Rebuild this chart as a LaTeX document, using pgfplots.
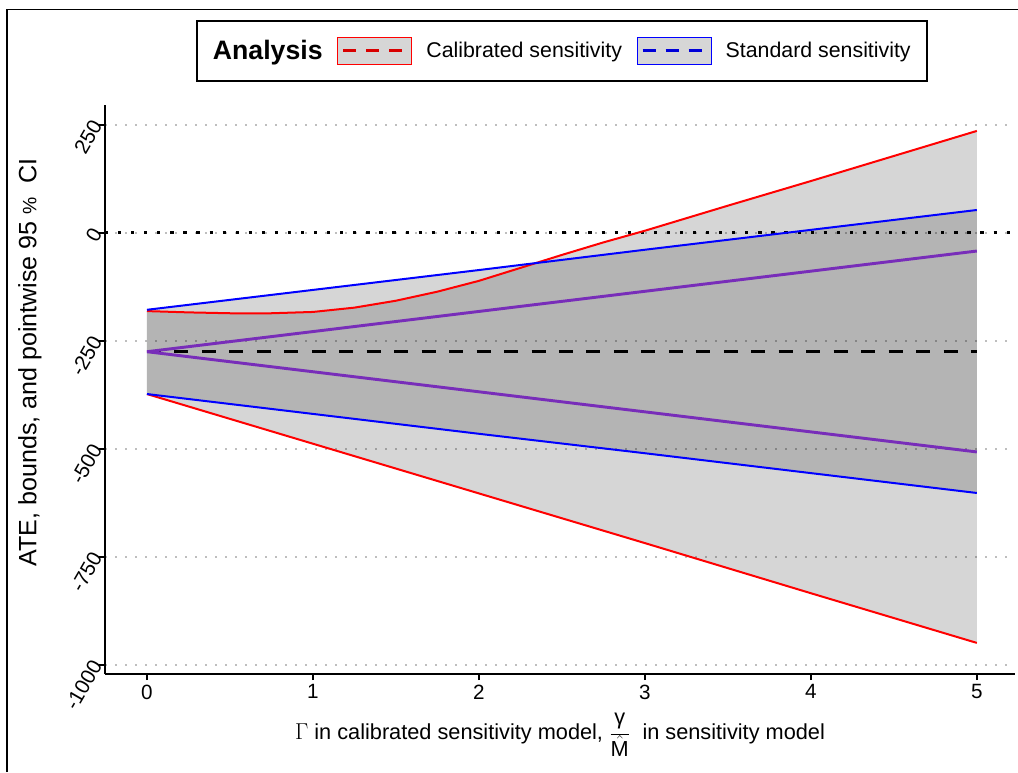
\documentclass[border=0pt]{standalone}
\usepackage{pgfplots}
\pgfplotsset{compat=1.18}
\usepackage[no-math]{fontspec}
\setmainfont{Liberation Sans}
\definecolor{mypurple}{RGB}{120,45,185}
\definecolor{keygray}{RGB}{214,214,214}
\definecolor{gridgray}{RGB}{190,190,190}

\begin{document}
\begin{tikzpicture}
\path[use as bounding box] (0,0) rectangle (763.5pt,-579pt);
\draw[line width=1pt] (5.25pt,-579pt) -- (5.25pt,-7pt) -- (763.5pt,-7pt);
\begin{axis}[
 at={(78.75pt,-505.5pt)}, anchor=south west,
 scale only axis, width=682.5pt, height=426.75pt,
 xmin=-0.253, xmax=5.23, ymin=-1021, ymax=296,
 axis x line*=bottom, axis y line*=left,
 axis line style={line width=1.1pt, -},
 xtick={0,1,2,3,4,5}, xticklabels={0,1,2,3,4,5},
 ytick={-1000,-750,-500,-250,0,250}, yticklabels={-1000,-750,-500,-250,0,250},
 tick align=outside, major tick length=4.5pt,
 tick style={line width=1.1pt, black},
 xticklabel style={font=\fontsize{15.5}{18}\selectfont},
 yticklabel style={font=\fontsize{15.5}{18}\selectfont, yshift=5pt, rotate=60, anchor=east},
 ymajorgrids, grid style={gridgray, line width=1.4pt, dash pattern=on 1.4pt off 6.1pt},
 xlabel={$\Gamma$ in calibrated sensitivity model, $\displaystyle\frac{\mbox{γ}}{\hat{\mbox{M}}}$\ \ in sensitivity model},
 xlabel style={font=\fontsize{16.3}{19}\selectfont, at={(axis description cs:0.5,-0.107)}, anchor=center},
 ylabel={ATE, bounds, and pointwise 95 {\fontsize{14.5}{15}\selectfont\%}\ \ CI},
 ylabel style={font=\fontsize{18.8}{22}\selectfont, at={(axis description cs:-0.0824,0.548)}, anchor=center},
 legend style={at={(0.502,1.095)}, anchor=center, draw=black, line width=1.5pt, fill=white,
   font=\fontsize{16}{19}\selectfont,
   inner xsep=12pt, inner ysep=12pt,
   nodes={inner sep=0pt},
   /tikz/every odd column/.style={column sep=0pt},
   /tikz/every even column/.style={column sep=11pt}},
 legend columns=3,
 legend cell align=left,
]
\addlegendimage{empty legend}
\addlegendentry{\fontsize{20}{22}\selectfont\bfseries Analysis}
\addlegendimage{legend image code/.code={
  \draw[red, fill=keygray, line width=0.8pt] (0pt,-10pt) rectangle (55.5pt,10pt);
  \draw[red!85!black, line width=2.3pt, dash pattern=on 9.75pt off 7.5pt] (4pt,0pt) -- (52pt,0pt);}}
\addlegendentry{\hspace*{10.5pt}Calibrated sensitivity}
\addlegendimage{legend image code/.code={
  \draw[blue, fill=keygray, line width=0.8pt] (0pt,-10pt) rectangle (55.5pt,10pt);
  \draw[blue!85!black, line width=2.3pt, dash pattern=on 9.75pt off 7.5pt] (4pt,0pt) -- (52pt,0pt);}}
\addlegendentry{\hspace*{10.5pt}Standard sensitivity}

% ribbons (upper bound, then lower bound reversed)
\addplot[forget plot, fill=black, fill opacity=0.16, draw=none] coordinates {
 (0,-181) (0.25,-184) (0.5,-186) (0.75,-186) (1,-183) (1.25,-173) (1.5,-157) (1.75,-136)
 (2,-111) (2.25,-81) (2.5,-51) (2.75,-22) (3,5) (3.5,63) (4,120) (4.5,178) (5,236)
 (5,-949) (4,-834) (3,-718) (2,-603) (1,-488) (0,-373)} -- cycle;
\addplot[forget plot, fill=black, fill opacity=0.16, draw=none] coordinates {
 (0,-178) (1,-132) (2,-86) (3,-39) (4,7) (5,53)
 (5,-602) (4,-556) (3,-510) (2,-465) (1,-419) (0,-373)} -- cycle;
% zero line
\addplot[forget plot, black, line width=2.4pt, dash pattern=on 2.4pt off 7.4pt] coordinates {(-0.253,0) (5.23,0)};
% Calibrated sensitivity bounds
\addplot[forget plot, red, line width=1.5pt] coordinates {
 (0,-181) (0.25,-184) (0.5,-186) (0.75,-186) (1,-183) (1.25,-173) (1.5,-157) (1.75,-136)
 (2,-111) (2.25,-81) (2.5,-51) (2.75,-22) (3,5) (3.5,63) (4,120) (4.5,178) (5,236)};
\addplot[forget plot, red, line width=1.5pt] coordinates {
 (0,-373) (1,-488) (2,-603) (3,-718) (4,-834) (5,-949)};
% Standard sensitivity bounds
\addplot[forget plot, blue, line width=1.5pt] coordinates {
 (0,-178) (1,-132) (2,-86) (3,-39) (4,7) (5,53)};
\addplot[forget plot, blue, line width=1.5pt] coordinates {
 (0,-373) (1,-419) (2,-465) (3,-510) (4,-556) (5,-602)};
% point estimate
\addplot[forget plot, black, line width=2.2pt, dash pattern=on 10.5pt off 10.1pt] coordinates {(0,-275) (5,-275)};
% bounds
\addplot[forget plot, mypurple, line width=2.2pt] coordinates {(0,-275) (5,-42)};
\addplot[forget plot, mypurple, line width=2.2pt] coordinates {(0,-275) (5,-507)};
\end{axis}
\end{tikzpicture}
\end{document}
